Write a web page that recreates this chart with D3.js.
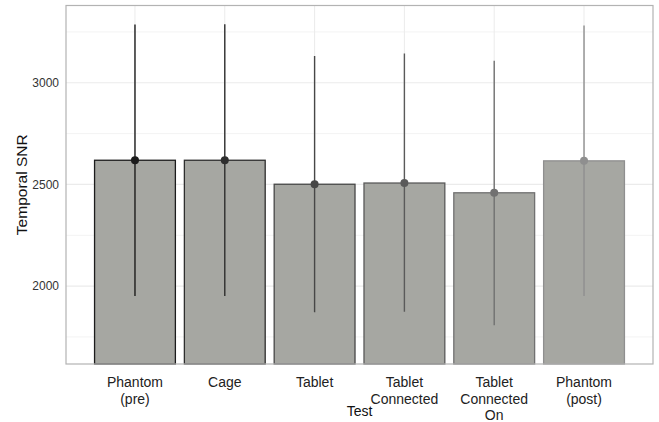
<!DOCTYPE html>
<html>
<head>
<meta charset="utf-8">
<script src="https://cdn.jsdelivr.net/npm/d3@7"></script>
<style>
  html, body { margin: 0; padding: 0; background: #fff; }
  svg { display: block; font-family: "Liberation Sans", Arial, Helvetica, sans-serif; }
</style>
</head>
<body>
<svg id="chart" width="659" height="422"></svg>
<script>
const categories = ["Phantom (pre)", "Cage", "Tablet", "Tablet Connected", "Tablet Connected On", "Phantom (post)"];
const labelLines = [["Phantom", "(pre)"], ["Cage"], ["Tablet"], ["Tablet", "Connected"], ["Tablet", "Connected", "On"], ["Phantom", "(post)"]];
const means = [2619, 2619, 2501, 2507, 2459, 2616];
const errHigh = [3287, 3288, 3132, 3144, 3108, 3282];
const errLow = [1952, 1952, 1871, 1874, 1808, 1951];
const yTicks = [2000, 2500, 3000];
const yMinorTicks = [1750, 2250, 2750, 3250];
const groupColors = ["#1c1c1c", "#2e2e2e", "#474747", "#5a5a5a", "#717171", "#8f8f8f"];
const yTitle = "Temporal SNR";
const xTitle = "Test";

const svg = d3.select("#chart");
const P = { left: 66, right: 653, top: 5.5, bottom: 364 };

const x = d3.scaleBand().domain(categories).range([P.left, P.right]).paddingInner(0.1).paddingOuter(0.318);
const y = d3.scaleLinear().domain([1617, 3380]).range([P.bottom, P.top]);

const data = categories.map((c, i) => ({ c, i, mean: means[i], hi: errHigh[i], lo: errLow[i], col: groupColors[i] }));

// minor grid
svg.append("g").selectAll("line").data(yMinorTicks).join("line")
  .attr("x1", P.left).attr("x2", P.right)
  .attr("y1", d => y(d)).attr("y2", d => y(d))
  .attr("stroke", "#f3f3f3").attr("stroke-width", 1);
// major grid
svg.append("g").selectAll("line").data(yTicks).join("line")
  .attr("x1", P.left).attr("x2", P.right)
  .attr("y1", d => y(d)).attr("y2", d => y(d))
  .attr("stroke", "#ebebeb").attr("stroke-width", 1.2);
svg.append("g").selectAll("line").data(categories).join("line")
  .attr("x1", d => x(d) + x.bandwidth() / 2).attr("x2", d => x(d) + x.bandwidth() / 2)
  .attr("y1", P.top).attr("y2", P.bottom)
  .attr("stroke", "#ebebeb").attr("stroke-width", 1);

// bars
svg.append("g").selectAll("rect").data(data).join("rect")
  .attr("x", d => x(d.c)).attr("width", x.bandwidth())
  .attr("y", d => y(d.mean)).attr("height", d => P.bottom - y(d.mean))
  .attr("fill", "#a6a7a2").attr("stroke", d => d.col).attr("stroke-width", 1.3);

// error bars
svg.append("g").selectAll("line").data(data).join("line")
  .attr("x1", d => x(d.c) + x.bandwidth() / 2).attr("x2", d => x(d.c) + x.bandwidth() / 2)
  .attr("y1", d => y(d.hi)).attr("y2", d => y(d.lo))
  .attr("stroke", d => d.col).attr("stroke-width", 1.4);

// points
svg.append("g").selectAll("circle").data(data).join("circle")
  .attr("cx", d => x(d.c) + x.bandwidth() / 2).attr("cy", d => y(d.mean))
  .attr("r", 4).attr("fill", d => d.col);

// panel border
svg.append("rect").attr("x", P.left).attr("y", P.top)
  .attr("width", P.right - P.left).attr("height", P.bottom - P.top)
  .attr("fill", "none").attr("stroke", "#b3b3b3").attr("stroke-width", 1.2);

// y axis labels
const yAxis = d3.axisLeft(y).tickValues(yTicks).tickSize(0).tickPadding(7).tickFormat(d3.format("d"));
const gy = svg.append("g").attr("transform", `translate(${P.left},0)`).call(yAxis);
gy.select(".domain").remove();
gy.selectAll("text").attr("font-size", 12).attr("fill", "#333").attr("font-family", "Liberation Sans, Arial, sans-serif");

// x labels
const xl = svg.append("g").selectAll("text").data(data).join("text")
  .attr("x", d => x(d.c) + x.bandwidth() / 2).attr("y", 387)
  .attr("text-anchor", "middle").attr("font-size", 14).attr("fill", "#222");
xl.each(function (d) {
  const t = d3.select(this);
  labelLines[d.i].forEach((ln, k) => {
    t.append("tspan").attr("x", x(d.c) + x.bandwidth() / 2).attr("dy", k === 0 ? 0 : 16.5).text(ln);
  });
});

// axis titles
svg.append("text").attr("x", (P.left + P.right) / 2).attr("y", 416)
  .attr("text-anchor", "middle").attr("font-size", 14).attr("fill", "#111").text(xTitle);
svg.append("text").attr("transform", `translate(27,${(P.top + P.bottom) / 2}) rotate(-90)`)
  .attr("text-anchor", "middle").attr("font-size", 15.5).attr("fill", "#111").text(yTitle);
</script>
</body>
</html>
